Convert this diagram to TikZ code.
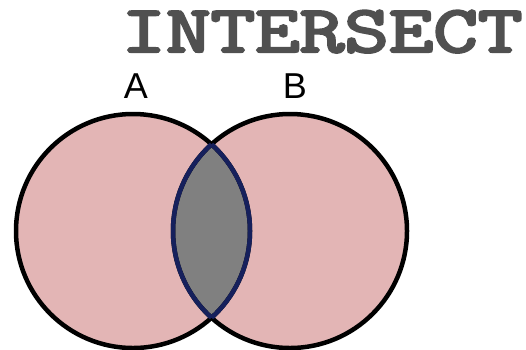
\documentclass[tikz,border=0pt]{standalone}
\usepackage{fontspec}
\newfontfamily\labelfont{Liberation Sans}
\newfontfamily\titlefont{Latin Modern Mono}[FakeBold=3.5]
\definecolor{pinkfill}{RGB}{227,181,181}
\definecolor{lensgray}{RGB}{128,128,128}
\definecolor{navy}{RGB}{22,32,92}
\definecolor{titlegray}{RGB}{80,80,80}
\begin{document}
\begin{tikzpicture}[x=1pt,y=-1pt,
  setedge/.style={draw=black,line width=4.5pt},
  lensedge/.style={draw=navy,line width=4.5pt},
  setlabel/.style={font=\labelfont\fontsize{36}{36}\selectfont,anchor=base,inner sep=0pt},
]
\useasboundingbox (0,0) rectangle (526,349);
\coordinate (ca) at (133,231);
\coordinate (cb) at (290,231);
% fills
\fill[pinkfill] (ca) circle[radius=117];
\fill[pinkfill] (cb) circle[radius=117];
\begin{scope}
  \clip (ca) circle[radius=117];
  \fill[lensgray] (cb) circle[radius=117];
\end{scope}
% outlines
\draw[setedge] (ca) circle[radius=117];
\draw[setedge] (cb) circle[radius=117];
\begin{scope}
  \clip (ca) circle[radius=117];
  \draw[lensedge] (cb) circle[radius=117];
\end{scope}
\begin{scope}
  \clip (cb) circle[radius=117];
  \draw[lensedge] (ca) circle[radius=117];
\end{scope}
% labels
\node[setlabel] (la) at (136,98) {A};
\node[setlabel] (lb) at (295,98) {B};
\node[anchor=base,inner sep=0pt,text=titlegray] (title) at (322,52)
  {\scalebox{1}[0.77]{\fontsize{86.5}{86.5}\selectfont\titlefont INTERSECT}};
\end{tikzpicture}
\end{document}
